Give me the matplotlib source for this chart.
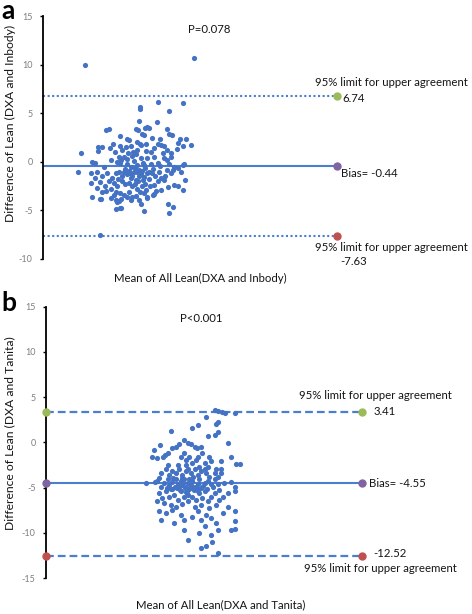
import matplotlib
matplotlib.use("Agg")
import matplotlib.pyplot as plt

plt.rcParams['font.family'] = ['Lato', 'DejaVu Sans']

# panel a: DXA vs Inbody (mean, difference)
a_mean = [43.4, 48.5, 39.8, 39.8, 45.6, 39.6, 43.2, 32.9, 33.5, 38.9, 39.4, 40.8, 41.3, 41.7, 45.2, 45.8,
          46.4, 40.2, 40.7, 42.3, 43.8, 35.8, 34.2, 37.2, 37.6, 39.1, 39.7, 47.5, 48.0, 49.1, 50.2, 31.3,
          32.0, 31.2, 27.7, 33.6, 35.7, 36.9, 38.0, 39.9, 41.1, 43.4, 44.0, 44.6, 45.3, 42.7, 42.1, 34.7,
          36.1, 38.3, 39.2, 41.0, 44.5, 46.2, 47.3, 48.5,
          27.1, 30.0, 30.7, 32.4, 33.8, 35.0, 35.5, 36.5, 37.1, 38.2, 38.9, 35.8, 37.2, 37.9, 39.1, 40.3,
          41.3, 42.1, 43.4, 44.7, 46.1, 45.8, 46.8, 47.6, 48.5, 48.8, 45.3, 42.7, 40.6, 39.6,
          29.7, 31.0, 32.1, 33.1, 34.1, 34.8, 35.5, 36.5, 37.2, 37.7, 38.2, 38.9, 39.2, 39.9, 40.5, 41.2,
          41.7, 42.3, 42.9, 43.6, 44.0, 44.6, 45.3, 46.1, 46.6, 48.2, 49.0, 47.5, 46.8, 44.8, 29.7, 30.7,
          31.7, 32.6, 33.4, 34.5, 35.1, 36.2, 36.7, 37.5, 38.2, 38.7, 39.4, 40.1, 40.8, 41.8, 42.7, 43.4,
          44.0, 45.4, 48.5, 30.0, 31.0, 32.0, 32.9, 33.8, 34.8, 35.8, 36.6, 37.5, 38.1, 38.9, 39.8, 40.6,
          41.3, 42.5, 43.0, 39.5,
          31.6, 31.9, 33.8, 34.5, 34.8, 35.1, 35.5, 36.0, 37.2, 38.0, 39.9, 41.3, 42.7, 45.4, 46.5, 45.8,
          40.5, 34.8, 35.7, 35.9, 31.7, 28.6, 50.9,
          36.8, 37.6, 38.5, 39.6, 40.2, 40.9, 41.6, 38.8, 37.9, 39.1, 40.4, 41.0, 36.2, 35.3, 36.0, 42.4,
          43.8, 37.4, 40.0, 38.6]
a_diff = [6.2, 6.0, 5.6, 5.4, 5.2, 4.2, 4.1, 3.3, 3.4, 3.4, 3.3, 3.5, 3.6, 3.5, 3.4, 2.9,
          2.8, 2.9, 2.8, 2.5, 2.3, 2.7, 1.8, 2.3, 2.2, 2.0, 1.8, 1.9, 2.3, 2.3, 1.7, 1.5,
          1.5, 1.1, 0.9, 1.4, 1.6, 1.5, 1.6, 1.7, 1.8, 1.8, 1.7, 1.6, 1.2, 1.4, 1.0, 1.0,
          1.2, 1.0, 1.2, 1.1, 0.9, 0.9, 1.3, 1.6,
          -1.1, 0.0, -0.1, -0.5, 0.2, 0.0, 0.5, 0.5, 0.3, 0.6, 0.8, -0.1, -0.2, -0.5, -0.3, -0.1,
          0.4, -0.2, -0.1, 0.4, 0.5, -0.2, -0.5, -0.6, -0.3, -0.2, 0.2, 0.5, -0.3, -0.8,
          -1.2, -1.1, -1.5, -1.2, -1.7, -1.2, -1.0, -1.0, -1.3, -1.2, -1.5, -1.9, -1.0, -1.3, -1.6, -1.2,
          -1.8, -1.2, -1.5, -1.0, -1.7, -1.9, -0.8, -1.2, -0.8, -1.0, -1.9, -2.5, -2.4, -1.5, -2.2, -1.7,
          -2.1, -2.5, -2.0, -2.2, -2.5, -2.0, -2.3, -2.2, -2.5, -2.3, -2.0, -2.5, -2.3, -2.5, -2.4, -2.0,
          -2.9, -2.6, -2.9, -3.6, -2.7, -3.1, -3.0, -2.8, -3.1, -3.2, -3.4, -3.1, -3.6, -3.5, -3.1, -3.2,
          -3.6, -3.4, -3.0, -3.9,
          -3.8, -3.8, -3.7, -3.4, -3.9, -4.1, -4.0, -3.8, -3.6, -3.9, -4.3, -3.7, -3.3, -4.3, -4.6, -5.3,
          -5.1, -4.9, -4.8, -4.8, -7.5, 10.0, 10.7,
          -0.7, -0.9, -1.1, -1.5, -0.9, -0.6, -1.0, -0.6, -1.7, -2.8, -1.9, -2.9, -1.5, -1.8, 0.2, -0.7,
          -0.4, 0.9, 0.4, 0.1]

# panel b: DXA vs Tanita (mean, difference)
b_mean = [52.0, 52.6, 53.4, 54.0, 55.8, 50.4, 48.8, 52.3, 52.6, 47.8, 43.7, 50.7, 52.0, 52.6, 54.5, 46.9,
          46.2, 47.5, 48.2, 48.7, 49.4, 45.3, 44.6, 44.0, 43.1, 42.3, 42.5, 41.7, 40.5, 40.2, 41.1, 45.6,
          46.1, 46.6, 47.2, 48.5, 48.8, 49.7, 51.0, 50.7, 50.1, 51.3, 53.2, 55.2, 56.1, 56.9, 52.0, 52.3,
          53.2, 50.4,
          38.9, 41.1, 41.8, 43.1, 43.4, 44.0, 44.6, 45.0, 45.6, 45.9, 46.2, 46.6, 46.9, 47.2, 47.5, 47.8,
          48.2, 48.8, 49.1, 49.4, 50.1, 50.7, 51.7, 52.6, 55.2, 55.8, 55.8,
          41.8, 42.7, 43.4, 44.0, 44.6, 45.3, 45.9, 46.6, 46.9, 47.5, 48.2, 48.8, 49.4, 50.1, 51.0, 52.0,
          53.2, 43.1, 45.0, 46.6, 47.8, 49.1, 52.6,
          41.5, 42.1, 42.7, 43.4, 44.0, 44.3, 45.0, 45.6, 46.1, 46.8, 47.2, 47.8, 48.5, 49.1, 49.7, 50.2,
          50.7, 51.3, 52.0, 52.9, 53.6, 54.5, 41.1, 42.4, 43.7, 44.6, 45.9, 46.9, 48.2, 49.4, 51.0, 52.3,
          55.8,
          41.5, 42.7, 44.0, 45.6, 46.2, 47.8, 48.8, 49.4, 50.4, 51.3, 52.3, 53.6, 54.5, 55.8, 55.8, 55.2,
          46.2, 49.1, 51.3, 44.3, 41.8, 52.6, 50.1, 49.4, 50.4, 52.6, 46.9, 51.6,
          44.9, 45.4, 46.4, 47.0, 47.6, 48.0, 48.6, 45.2, 46.0, 47.3, 44.5, 43.8, 48.9, 49.8, 46.5, 45.8,
          47.9, 44.2, 43.0, 42.4, 41.4, 40.6, 50.6, 51.4, 52.8, 53.8]
b_diff = [3.6, 3.5, 3.4, 3.3, 3.2, 2.8, 1.9, 2.0, 2.2, 1.6, 1.2, 0.7, 0.8, 1.1, -0.1, -0.1,
          0.3, -0.2, -0.5, -0.6, -0.5, -0.2, -0.5, -0.6, -1.2, -1.6, -1.4, -0.3, -0.8, -1.6, -1.7, -1.6,
          -1.2, -1.9, -1.6, -1.9, -1.6, -1.2, -1.6, -2.7, -2.3, -2.1, -2.1, -1.6, -2.4, -2.4, -3.4, -2.9,
          -3.4, -3.4,
          -4.5, -4.3, -4.9, -4.1, -4.7, -4.4, -4.1, -4.6, -4.3, -4.7, -4.1, -4.9, -4.5, -4.1, -4.7, -4.3,
          -4.9, -4.6, -4.1, -5.1, -4.5, -4.3, -4.9, -4.6, -4.4, -4.9, -5.4,
          -3.4, -3.0, -3.6, -3.2, -3.4, -3.0, -3.6, -3.2, -2.9, -3.4, -3.0, -3.6, -3.2, -2.9, -3.8, -4.1,
          -3.0, -2.5, -2.5, -2.5, -2.3, -2.7, -3.8,
          -5.6, -6.2, -5.4, -6.0, -5.2, -5.8, -6.4, -5.4, -6.0, -5.6, -5.2, -6.0, -6.4, -5.6, -6.2, -5.4,
          -6.5, -6.0, -5.6, -6.4, -6.0, -5.6, -6.5, -6.7, -6.9, -7.1, -6.8, -6.5, -7.1, -6.9, -7.3, -6.9,
          -7.6,
          -7.6, -7.8, -7.5, -8.0, -8.6, -8.2, -7.6, -8.6, -8.0, -8.4, -8.9, -7.8, -7.1, -8.7, -9.6, -9.7,
          -9.7, -10.0, -10.3, -8.9, -8.6, -9.7, -9.3, -11.7, -11.5, -12.2, -10.8, -11.0,
          -5.0, -5.3, -5.1, -5.8, -4.9, -5.3, -5.0, -4.8, -4.5, -4.4, -4.9, -5.2, -5.4, -4.8, -5.5, -3.9,
          -3.8, -3.9, -5.0, -4.5, -3.9, -4.4, -5.2, -4.6, -5.3, -4.5]

a_upper, a_bias, a_lower = 6.74, -0.44, -7.63
b_upper, b_bias, b_lower = 3.41, -4.55, -12.52
line_x = [20, 80]
a_p_text = "P=0.078"
b_p_text = "P<0.001"
yticks_a = [-10, -5, 0, 5, 10, 15]
yticks_b = [-15, -10, -5, 0, 5, 10, 15]

pt_col = '#4472C4'
line_col = '#4a7fd0'
green, purple, red = '#9BBB59', '#8064A2', '#C0504D'
txt_col = '#151515'
lab = "95% limit for upper agreement"

fig = plt.figure(figsize=(4.72, 6.14), dpi=100)


def style_axis(ax, yticks):
    for s in ['top', 'right', 'bottom']:
        ax.spines[s].set_visible(False)
    ax.spines['left'].set_color('black')
    ax.spines['left'].set_linewidth(1.3)
    ax.set_xticks([])
    ax.set_yticks(yticks)
    ax.set_yticklabels([str(t) for t in yticks])
    ax.tick_params(axis='y', direction='out', length=2.5, width=1, colors='black',
                   labelcolor='#7f7f7f', labelsize=6.5, pad=5)


# ---- panel a ----
ax = fig.add_axes([43/472, 1-259/614, 302/472, 243/614])
ax.set_xlim(20, 81.6)
ax.set_ylim(-10, 15)
style_axis(ax, yticks_a)
ax.scatter(a_mean, a_diff, s=14, color=pt_col, linewidths=0, zorder=3)
ax.plot(line_x, [a_upper]*2, color=line_col, lw=1.5, linestyle=(0, (1, 1.2)))
ax.plot(line_x, [a_bias]*2, color=line_col, lw=1.5)
ax.plot(line_x, [a_lower]*2, color=line_col, lw=1.5, linestyle=(0, (1, 1.2)))
ax.plot(line_x[1], a_upper, 'o', color=green, ms=5, zorder=4)
ax.plot(line_x[1], a_bias, 'o', color=purple, ms=5, zorder=4)
ax.plot(line_x[1], a_lower, 'o', color=red, ms=5, zorder=4)
kw = dict(textcoords='offset points', fontsize=8.2, color=txt_col, va='center')
ax.annotate(lab, (line_x[1], a_upper), xytext=(39, 10), ha='center', **kw)
ax.annotate(f"{a_upper:.2f}", (line_x[1], a_upper), xytext=(3.6, -1.4), ha='left', **kw)
ax.annotate(f"Bias= {a_bias:.2f}", (line_x[1], a_bias), xytext=(2.9, -5), ha='left', **kw)
ax.annotate(lab, (line_x[1], a_lower), xytext=(39, -8), ha='center', **kw)
ax.annotate(f"{a_lower:.2f}", (line_x[1], a_lower), xytext=(2.2, -18.7), ha='left', **kw)
ax.text(53.9, 13.6, a_p_text, ha='center', va='center', fontsize=8.2, color=txt_col)
fig.text(10/472, 1-123/614, "Difference of Lean (DXA and Inbody)", rotation=90,
         ha='center', va='center', fontsize=8.7, color=txt_col)
fig.text(200/472, 1-278/614, "Mean of All Lean(DXA and Inbody)", ha='center', va='center',
         fontsize=8.2, color=txt_col)
fig.text(1/472, 1-19/614, "a", fontsize=19, fontweight='bold', ha='left', va='baseline')

# ---- panel b ----
ax = fig.add_axes([46/472, 1-578/614, 324/472, 271.3/614])
ax.set_xlim(20, 81.5)
ax.set_ylim(-15, 15)
style_axis(ax, yticks_b)
ax.scatter(b_mean, b_diff, s=14, color=pt_col, linewidths=0, zorder=3)
ax.plot(line_x, [b_upper]*2, color=line_col, lw=1.6, linestyle=(0, (3.5, 1.8)))
ax.plot(line_x, [b_bias]*2, color=line_col, lw=1.5)
ax.plot(line_x, [b_lower]*2, color=line_col, lw=1.6, linestyle=(0, (3.5, 1.8)))
for yv, c in [(b_upper, green), (b_bias, purple), (b_lower, red)]:
    ax.plot(line_x, [yv, yv], 'o', color=c, ms=5, zorder=4, clip_on=False)
ax.annotate(lab, (line_x[1], b_upper), xytext=(9.4, 11.2), ha='center', **kw)
ax.annotate(f"{b_upper:.2f}", (line_x[1], b_upper), xytext=(7.9, 0), ha='left', **kw)
ax.annotate(f"Bias= {b_bias:.2f}", (line_x[1], b_bias), xytext=(5, 0), ha='left', **kw)
ax.annotate(f"{b_lower:.2f}", (line_x[1], b_lower), xytext=(7.9, 1.4), ha='left', **kw)
ax.annotate(lab, (line_x[1], b_lower), xytext=(13, -9), ha='center', **kw)
ax.text(49.5, 13.75, b_p_text, ha='center', va='center', fontsize=8.2, color=txt_col)
fig.text(10/472, 1-433/614, "Difference of Lean (DXA and Tanita)", rotation=90,
         ha='center', va='center', fontsize=8.7, color=txt_col)
fig.text(221/472, 1-605/614, "Mean of All Lean(DXA and Tanita)", ha='center', va='center',
         fontsize=8.2, color=txt_col)
fig.text(1/472, 1-311/614, "b", fontsize=19, fontweight='bold', ha='left', va='baseline')

fig.savefig("out.png", dpi=100, facecolor='white')
